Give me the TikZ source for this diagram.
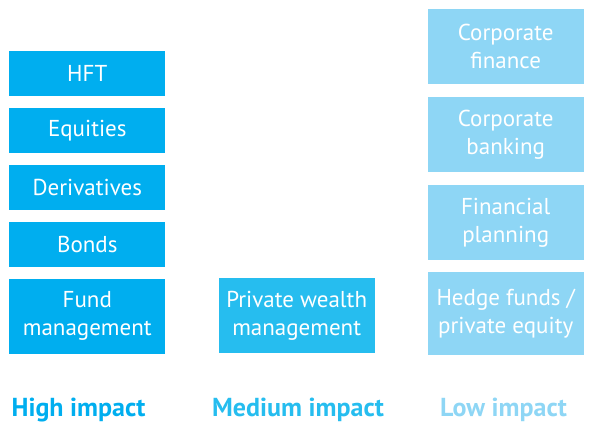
\documentclass[tikz,border=0pt]{standalone}
\usepackage{fontspec}
\setmainfont{PT Sans}
\usepackage{xcolor}
\usepackage{tikz}
\usetikzlibrary{positioning}
\definecolor{HighBlue}{RGB}{0,174,239}
\definecolor{MidBlue}{RGB}{38,189,239}
\definecolor{LowBlue}{RGB}{142,214,245}

\tikzset{
  area/.style={fill=#1,draw=none,text=white,align=center,inner sep=0pt,
    minimum width=156pt,font=\fontsize{23}{28}\selectfont},
  short/.style={minimum height=45pt},
  tall/.style={minimum height=75pt},
  impact/.style={text=#1,font=\fontsize{26}{30}\selectfont\bfseries,anchor=base}
}

\begin{document}
\begin{tikzpicture}[x=1pt,y=-1pt,node distance=11.5pt]
    \useasboundingbox (0,0) rectangle (595,430);
    % high impact
    \node[area=HighBlue,short] (hft) at (87.3,73.5) {HFT};
    \node[area=HighBlue,short,below=of hft] (equities) {Equities};
    \node[area=HighBlue,short,below=of equities] (derivatives) {Derivatives};
    \node[area=HighBlue,short,below=of derivatives] (bonds) {Bonds};
    \node[area=HighBlue,tall,below=of bonds] (fund) {Fund\\management};
    % medium impact
    \node[area=MidBlue,tall] (wealth) at (296.7,315.5) {Private wealth\\management};
    % low impact
    \node[area=LowBlue,tall] (corpfin) at (505.7,46.7) {Corporate\\finance};
    \node[area=LowBlue,tall,below=12.5pt of corpfin] (corpbank) {Corporate\\banking};
    \node[area=LowBlue,tall,below=12.5pt of corpbank] (planning) {Financial\\planning};
    \node[area=LowBlue,minimum height=83pt,below=12pt of planning] (hedge) {Hedge funds /\\private equity};
    \node[impact=HighBlue] (high) at (78.5,417) {High impact};
    \node[impact=MidBlue] (medium) at (298,417) {Medium impact};
    \node[impact=LowBlue] (low) at (503.5,417) {Low impact};
  \end{tikzpicture}
\end{document}
